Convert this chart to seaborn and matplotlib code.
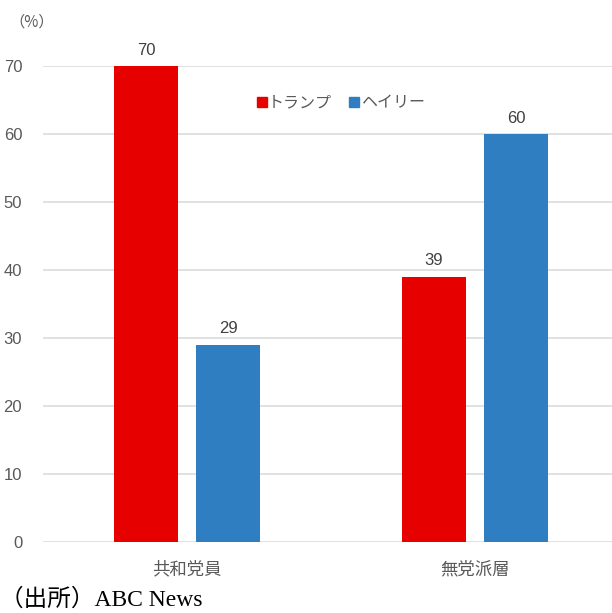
import matplotlib
matplotlib.use("Agg")
import matplotlib.pyplot as plt
import seaborn as sns
import pandas as pd

categories = ["共和党員", "無党派層"]
series_names = ["トランプ", "ヘイリー"]
trump = [70, 39]
haley = [29, 60]
yticks = [0, 10, 20, 30, 40, 50, 60, 70]
colors = ["#E60000", "#2E7EC1"]

sns.set_theme(style="white")
plt.rcParams['font.family'] = ['Noto Sans CJK JP', 'DejaVu Sans']

df = pd.DataFrame({
    "cat": categories * 2,
    "series": [series_names[0]] * 2 + [series_names[1]] * 2,
    "value": trump + haley,
})

fig = plt.figure(figsize=(6.12, 6.13), dpi=100)
ax = fig.add_axes([43 / 612, 71 / 613, 576 / 612, 476 / 613])

sns.barplot(data=df, x="cat", y="value", hue="series", order=categories,
            hue_order=series_names, palette=colors, width=0.57, gap=0.22,
            saturation=1, ax=ax, legend=False, zorder=3, linewidth=0,
            edgecolor="none")

ax.set_xlim(-0.5, 1.5)
ax.set_ylim(0, 70)
ax.set_yticks(yticks)
ax.yaxis.grid(True, color="#D9D9D9", linewidth=1.1, zorder=0)
ax.set_axisbelow(True)
for s in ax.spines.values():
    s.set_visible(False)
ax.tick_params(axis="y", length=0, pad=15, labelsize=12, labelcolor="#595959")
ax.tick_params(axis="x", length=0, pad=13, labelsize=12.5, labelcolor="#595959")
for lbl in ax.get_yticklabels():
    lbl.set_family(['Liberation Sans', 'DejaVu Sans'])
ax.set_xlabel("")
ax.set_ylabel("")

for cont in ax.containers:
    ax.bar_label(cont, fmt="%d", padding=6, fontsize=12, color="#404040",
                 family=['Liberation Sans', 'DejaVu Sans'], clip_on=False)

# legend
from matplotlib.lines import Line2D
handles = [Line2D([], [], marker="s", linestyle="", color=c, markersize=7) for c in colors]
leg = ax.legend(handles, series_names, loc="center", bbox_to_anchor=(0.5156, 0.922),
                ncol=2, frameon=False, fontsize=11.5, handletextpad=0.0,
                columnspacing=1.0, handlelength=0.8)
for t in leg.get_texts():
    t.set_color("#595959")

fig.text(9 / 612, 1 - 22 / 613, "（%）", fontsize=11, color="#595959", va="center", ha="left")
fig.text(0 / 612, 1 - 600 / 613, "（出所）ABC News", fontsize=17, color="#000000",
         va="center", ha="left", family=['Liberation Serif', 'Noto Sans CJK JP'])

fig.savefig("out.png", dpi=100)
